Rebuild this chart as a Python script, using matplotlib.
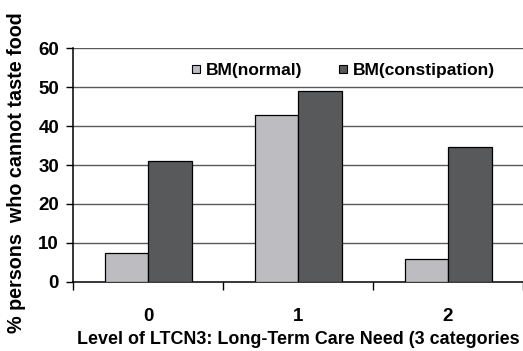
import matplotlib
matplotlib.use("Agg")
import matplotlib.pyplot as plt
from matplotlib.lines import Line2D
import numpy as np

categories = ["0", "1", "2"]
series_names = ["BM(normal)", "BM(constipation)"]
normal = [7.3, 42.8, 5.8]
constipation = [31.0, 49.0, 34.7]
y_ticks = [0, 10, 20, 30, 40, 50, 60]

light = "#bdbdc1"
dark = "#58595b"

plt.rcParams["font.family"] = ["Liberation Sans", "DejaVu Sans"]
plt.rcParams["font.weight"] = "bold"

fig = plt.figure(figsize=(5.23, 3.51), dpi=100)
ax = fig.add_axes([73 / 523, 1 - 281.7 / 351, 1 - 73 / 523, (281.7 - 48.3) / 351])

x = np.arange(len(categories)) + 0.5
w = 0.29
ax.bar(x - w / 2, normal, w, color=light, edgecolor="black", linewidth=0.9, zorder=3)
ax.bar(x + w / 2, constipation, w, color=dark, edgecolor="black", linewidth=0.9, zorder=3)

ax.set_xlim(0, 3)
ax.set_ylim(0, 60)
ax.set_yticks(y_ticks)
ax.set_yticklabels([str(v) for v in y_ticks], fontsize=13.5, fontweight="bold")
ax.set_xticks([0, 1, 2, 3])
ax.set_xticklabels([])
ax.set_xticks(x, minor=True)
ax.set_xticklabels(categories, minor=True, fontsize=13.5, fontweight="bold")
ax.tick_params(axis="x", which="minor", length=0, pad=19)
ax.tick_params(axis="x", which="major", length=6, width=1, direction="out")
ax.tick_params(axis="y", length=5, width=1, direction="out", pad=5)

for v in y_ticks[1:]:
    ax.axhline(v, color="#5a5a5a", linewidth=1, zorder=1)

for s in ["top", "right"]:
    ax.spines[s].set_visible(False)
for s in ["left", "bottom"]:
    ax.spines[s].set_linewidth(1.1)
    ax.spines[s].set_color("black")

fig.text(17 / 523, 1 - 173 / 351, "% persons  who cannot taste food", rotation=90,
         fontsize=14.2, fontweight="bold", ha="center", va="center")
fig.text(77 / 523, 1 - 339 / 351, "Level of LTCN3: Long-Term Care Need (3 categories",
         fontsize=12.9, fontweight="bold", ha="left", va="center")

handles = [
    Line2D([], [], marker="s", ls="", markerfacecolor=light, markeredgecolor="black",
           markersize=5.5, markeredgewidth=0.8),
    Line2D([], [], marker="s", ls="", markerfacecolor=dark, markeredgecolor="black",
           markersize=5.5, markeredgewidth=0.8),
]
ax.legend(handles, series_names, loc="center", bbox_to_anchor=(0.6, 0.907), ncol=2,
          frameon=False, handlelength=0.6, handletextpad=0.3, columnspacing=2.0,
          prop={"size": 12.5, "weight": "bold"})

fig.savefig("out.png", dpi=100)
